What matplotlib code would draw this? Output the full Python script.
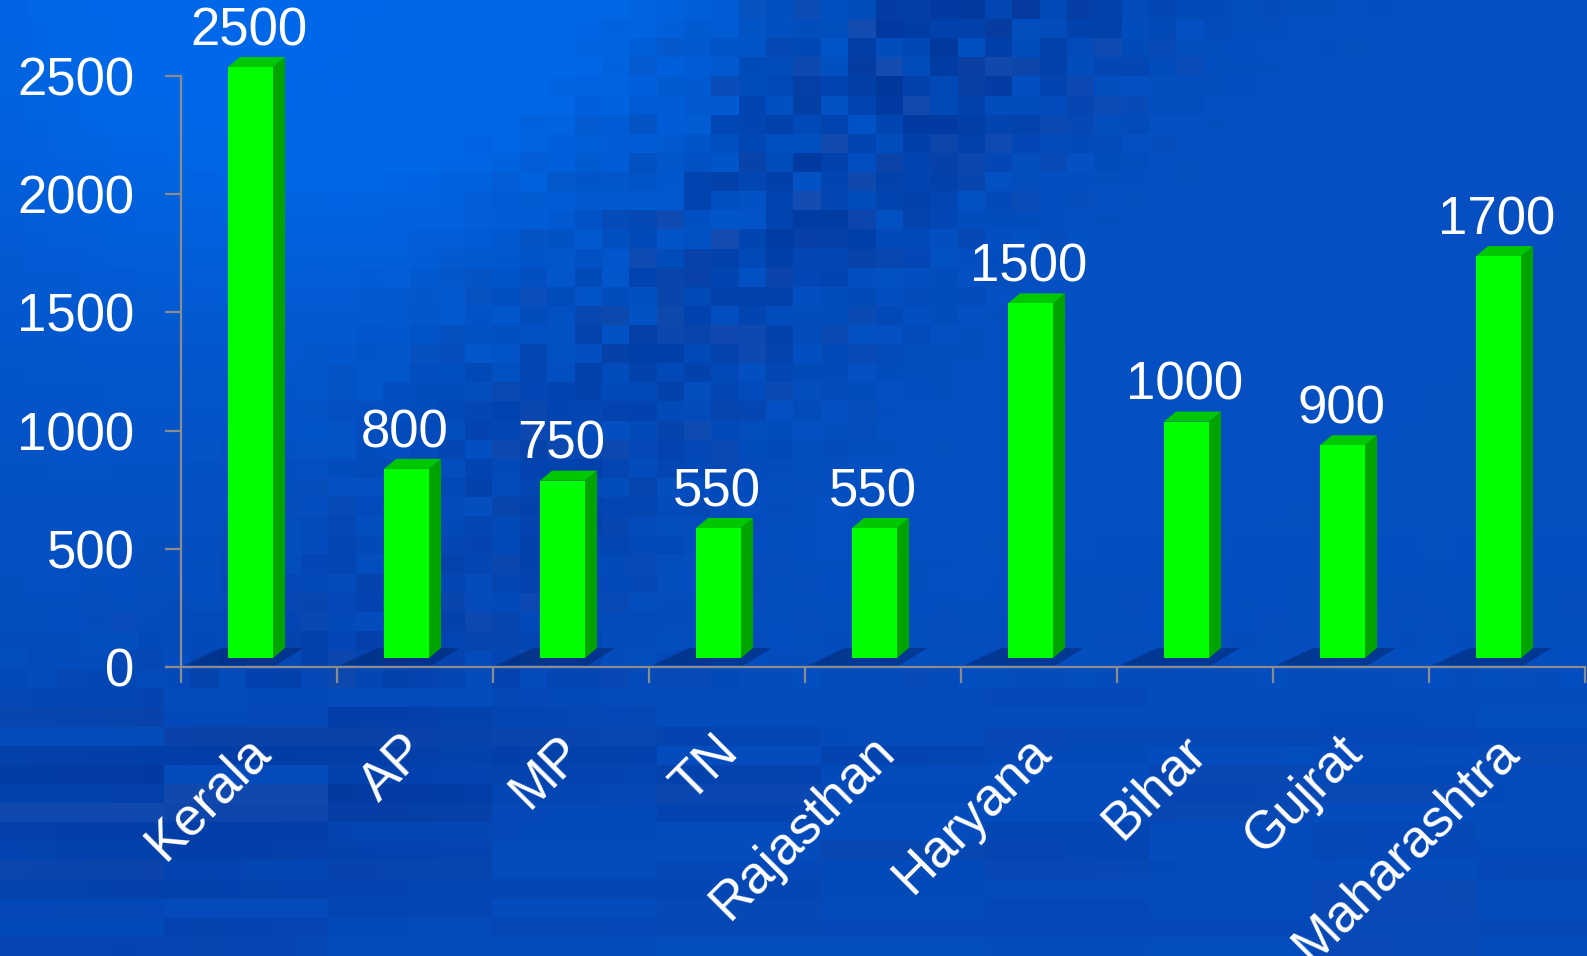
import numpy as np
import matplotlib
matplotlib.use("Agg")
from matplotlib import pyplot as plt
from matplotlib.patches import Polygon

states = ['Kerala', 'AP', 'MP', 'TN', 'Rajasthan', 'Haryana', 'Bihar', 'Gujrat', 'Maharashtra']
counts = [2500, 800, 750, 550, 550, 1500, 1000, 900, 1700]
yticks = [0, 500, 1000, 1500, 2000, 2500]

plt.rcParams['font.family'] = ['Liberation Sans', 'DejaVu Sans']

W, H, DPI = 1587, 956, 100
fig = plt.figure(figsize=(W / DPI, H / DPI), dpi=DPI)

# --- blue mosaic backdrop ---
ncol, nrow = 58, 50
jj, ii = np.meshgrid(np.arange(ncol), np.arange(nrow))
xs = (jj + 0.5) / ncol
ys = (ii + 0.5) / nrow
hsh = np.sin(ii * 12.9898 + jj * 78.233) * 43758.5453
hsh = hsh - np.floor(hsh)
# lower rows look like horizontal streaks: reuse one value per few columns
hrow = np.sin(ii * 7.31 + (jj // 6) * 3.17) * 24634.6345
hrow = hrow - np.floor(hrow)
hsh = np.where(ys > 0.72, hrow, hsh)

mid = np.array([0.02, 0.31, 0.76])
bright = np.array([0.0, 0.41, 0.91])
dark = np.array([0.0, 0.16, 0.52])
light = np.array([0.12, 0.36, 0.76])

w_bright = np.clip(np.exp(-((xs - 0.22) / 0.34) ** 2 - (ys / 0.34) ** 2) * 1.25, 0, 1)
# diagonal dark band from the top centre down to the lower left
d = (xs - (0.62 - 0.55 * ys))
w_dark = np.exp(-(d / 0.14) ** 2) * np.clip(1.1 - ys, 0, 1)
w_dark += 0.45 * np.exp(-((ys - 0.82) / 0.10) ** 2) * np.clip(1.0 - xs * 0.8, 0, 1)
w_dark += 0.25 * np.clip((ys - 0.55) / 0.4, 0, 1)
w_dark = np.clip(w_dark, 0, 1)

bg = mid + w_bright[..., None] * (bright - mid)
mix = (w_dark * (0.15 + 0.75 * hsh))[..., None]
bg = bg * (1 - mix) + dark * mix
lt = (w_dark * np.clip((hsh - 0.75) * 3, 0, 1))[..., None]
bg = bg * (1 - lt) + light * lt

bgax = fig.add_axes([0, 0, 1, 1], zorder=0)
bgax.imshow(np.clip(bg, 0, 1), extent=(0, 1, 0, 1), aspect='auto', interpolation='nearest')
bgax.axis('off')

# --- main chart ---
ax = fig.add_axes([181 / W, 289 / H, (1585 - 181) / W, 591 / H], zorder=1)
ax.set_facecolor('none')
ax.set_xlim(-0.5, len(states) - 0.5)
ax.set_ylim(0, 2500)

px_x = 156.0          # pixels per category
px_y = 591.0 / 2500   # pixels per unit
lift = 9 / px_y       # front face sits slightly above the floor line
dx = 12 / px_x        # depth of the box
dy = 10 / px_y
off = 31 / px_x
bw = 45 / px_x

x = np.arange(len(states))
lefts = x - off

# floor shadow behind each column
for xl, v in zip(lefts, counts):
    sh = Polygon([(xl - 0.28, lift * 0.2), (xl + bw + 0.02, lift * 0.2),
                  (xl + bw + dx + 0.12, lift + dy), (xl + dx - 0.12, lift + dy)],
                 closed=True, facecolor='#001a55', alpha=0.4, edgecolor='none',
                 zorder=2)
    ax.add_patch(sh)

ax.bar(lefts, counts, width=bw, bottom=lift, align='edge', color='#00ff00',
       edgecolor='none', zorder=4, clip_on=False)

for xl, v in zip(lefts, counts):
    top = v + lift
    side = Polygon([(xl + bw, lift), (xl + bw + dx, lift + dy),
                    (xl + bw + dx, top + dy), (xl + bw, top)],
                   closed=True, facecolor='#00a300', edgecolor='none', zorder=3,
                   clip_on=False)
    cap = Polygon([(xl, top), (xl + bw, top), (xl + bw + dx, top + dy),
                   (xl + dx, top + dy)],
                  closed=True, facecolor='#00c800', edgecolor='none', zorder=3,
                  clip_on=False)
    ax.add_patch(side)
    ax.add_patch(cap)
    ax.text(xl + bw / 2 - 0.01, v + 130, str(v), color='white', fontsize=38,
            ha='center', va='baseline', zorder=6, clip_on=False)

# axes styling
for s in ['top', 'right']:
    ax.spines[s].set_visible(False)
for s in ['left', 'bottom']:
    ax.spines[s].set_color('#8c8c8c')
    ax.spines[s].set_linewidth(1.6)
    ax.spines[s].set_zorder(5)

ax.set_yticks(yticks)
ax.set_yticklabels([str(t) for t in yticks])
ax.tick_params(axis='y', direction='out', length=11.5, width=1.6, color='#8c8c8c',
               labelcolor='white', labelsize=38, pad=22)
ax.set_xticks(np.arange(len(states) + 1) - 0.5)
ax.set_xticklabels([])
ax.tick_params(axis='x', direction='out', length=11.5, width=1.6, color='#8c8c8c')

trans = ax.get_xaxis_transform()
for xi, name in zip(x, states):
    ax.text(xi - 0.09, -0.10, name, transform=trans, rotation=45,
            rotation_mode='anchor', ha='right', va='top', color='white',
            fontsize=38, clip_on=False)

fig.savefig('out.png', dpi=DPI)
